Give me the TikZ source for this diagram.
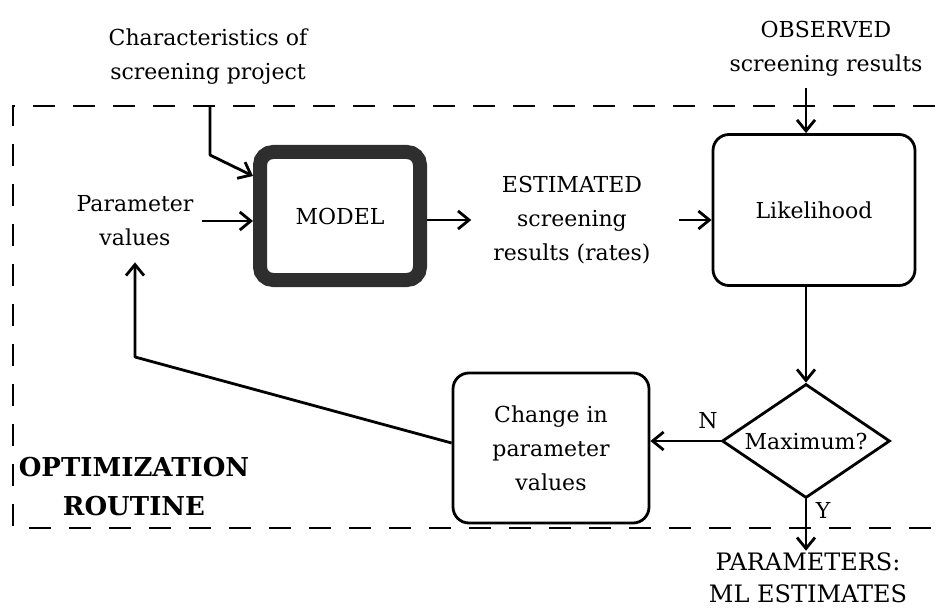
\documentclass[tikz,border=0pt]{standalone}
\usepackage{fontspec}
\setmainfont{DejaVu Serif}
\usetikzlibrary{arrows.meta,shapes.geometric}
\begin{document}
\begin{tikzpicture}[x=1pt,y=-1pt,
  every node/.style={font=\fontsize{22}{34}\selectfont, align=center, inner sep=0pt},
  arr/.style={line width=2.8pt, line join=round,
    -{Straight Barb[length=11pt,width=18pt]}},
  roundbox/.style={draw, line width=2.8pt, rounded corners=16pt},
  modelbox/.style={draw=black!82, line width=14pt, rounded corners=13pt},
  frame/.style={line width=2.8pt, dash pattern=on 22pt off 18pt},
  titletext/.style={font=\fontsize{26}{39}\selectfont\bfseries},
  resulttext/.style={font=\fontsize{24}{32}\selectfont}
]
\useasboundingbox (0,0) rectangle (939,612);

% optimization routine frame (open on the right)
\draw[frame] (935,106) -| (13,528) -- (935,528);

% texts and boxes
\node (chars) at (208,57) {Characteristics of\\screening project};
\node (obs) at (826,49) {OBSERVED\\screening results};
\node (params) at (135,221) {Parameter\\values};
\node[modelbox, minimum width=160pt, minimum height=128pt] (model) at (340,216) {MODEL};
\node (est) at (572,220) {ESTIMATED\\screening\\results (rates)};
\node[roundbox, minimum width=202pt, minimum height=151pt] (lik) at (814,210) {Likelihood};
\node[diamond, draw, line width=2.8pt, minimum width=168pt, minimum height=114pt] (max) at (806,441) {};
\node (maxlabel) at (max.center) {Maximum?};
\node[roundbox, minimum width=196pt, minimum height=150pt] (change) at (551,448) {Change in\\parameter\\values};
\node[resulttext] (out) at (808,578) {PARAMETERS:\\ML ESTIMATES};
\node[titletext] (opt) at (134,487) {OPTIMIZATION\\ROUTINE};
\node (nlab) at (708,421) {N};
\node (ylab) at (823,510) {Y};

% connectors
\coordinate (chin) at (210,106);
\coordinate (obsfoot) at ([yshift=-11pt]obs.south);
\coordinate (outtop) at ([yshift=2pt]out.north);
\draw[arr] (chin) -- (210,155) -- (model.west |- 0,176);
\draw[arr] ([xshift=8pt]params.east) -- (params.east -| model.west);
\draw[arr] (model.east |- est.west) -- ([xshift=-22pt]est.west);
\draw[arr] ([xshift=28pt]est.east) -- (est.east -| lik.west);
\draw[arr] (obsfoot -| max.north) -- (max.north |- lik.north);
\draw[arr] (lik.south -| max.north) -- (max.north);
\draw[arr] (max.west) -- (max.west -| change.east);
\draw[arr] (max.south) -- (max.south |- outtop);
\draw[arr] (change.west |- 0,443) -- (params.south |- 0,357) -- ([yshift=-16pt]params.south);
\end{tikzpicture}
\end{document}
